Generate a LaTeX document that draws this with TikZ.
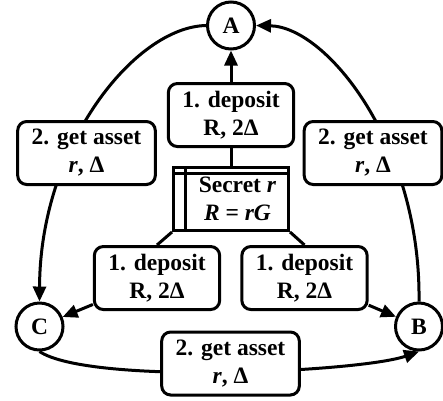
\documentclass[tikz,border=0pt]{standalone}
\usepackage{fontspec}
\setmainfont{Liberation Serif}
\usetikzlibrary{arrows.meta}
\begin{document}
\begin{tikzpicture}[x=1pt,y=-1pt,
  every node/.style={font=\fontsize{23.5}{28}\selectfont\bfseries},
  party/.style={circle, draw, line width=3pt, minimum size=47pt, inner sep=0pt, fill=white},
  msg/.style={draw, line width=3pt, rounded corners=9pt, align=center, fill=white,
              inner xsep=14pt, inner ysep=4pt, minimum height=63pt},
  vault/.style={draw, line width=3pt, align=center, fill=white, inner sep=0pt,
                minimum width=115pt, minimum height=63pt},
  link/.style={line width=3pt},
  flow/.style={line width=3pt, -{Triangle[length=15pt,width=13pt]}}]
\useasboundingbox (0,0) rectangle (443,400);

% the three parties
\node[party] (A) at (231,25.5) {A};
\node[party] (C) at (39.5,326.5) {C};
\node[party] (B) at (419,326.5) {B};

% asset transfers between the parties
\draw[flow] (A.west) .. controls (135,27) and (40,145) .. (C.north);
\draw[flow] (B.north) .. controls (421,145) and (327,27) .. (A.east);
\draw[flow] (C.south) .. controls (90,385) and (360,372) .. (B.south);

% labels sitting on the transfer curves
\node[msg] (gl) at (86.5,153) {2. get asset\\\textit{r}, Δ};
\node[msg] (gr) at (373,153) {2. get asset\\\textit{r}, Δ};
\node[msg] (gb) at (230.5,363.5) {2. get asset\\\textit{r}, Δ};

% deposits locked by the shared secret
\node[msg] (dt) at (231,115) {1. deposit\\R, 2Δ};
\node[msg] (dl) at (157,278) {1. deposit\\R, 2Δ};
\node[msg] (dr) at (304.5,278) {1. deposit\\R, 2Δ};

\node[vault] (s) at (231,199)
  {\hspace*{13pt}Secret \textit{r}\\\hspace*{13pt}\textit{R} = \textit{rG}};
\draw[link] ([xshift=13pt]s.north west) -- ([xshift=13pt]s.south west);
\draw[link] ([yshift=-7pt]s.north west) -- ([yshift=-7pt]s.north east);

\draw[flow] (dt.north) -- (A.south);
\draw[link] (s.north) -- (dt.south);
\draw[link] (s.south west) -- (dl.north);
\draw[link] (s.south east) -- (dr.north);
\draw[flow] (dl) -- (C);
\draw[flow] (dr) -- (B);
\end{tikzpicture}
\end{document}
